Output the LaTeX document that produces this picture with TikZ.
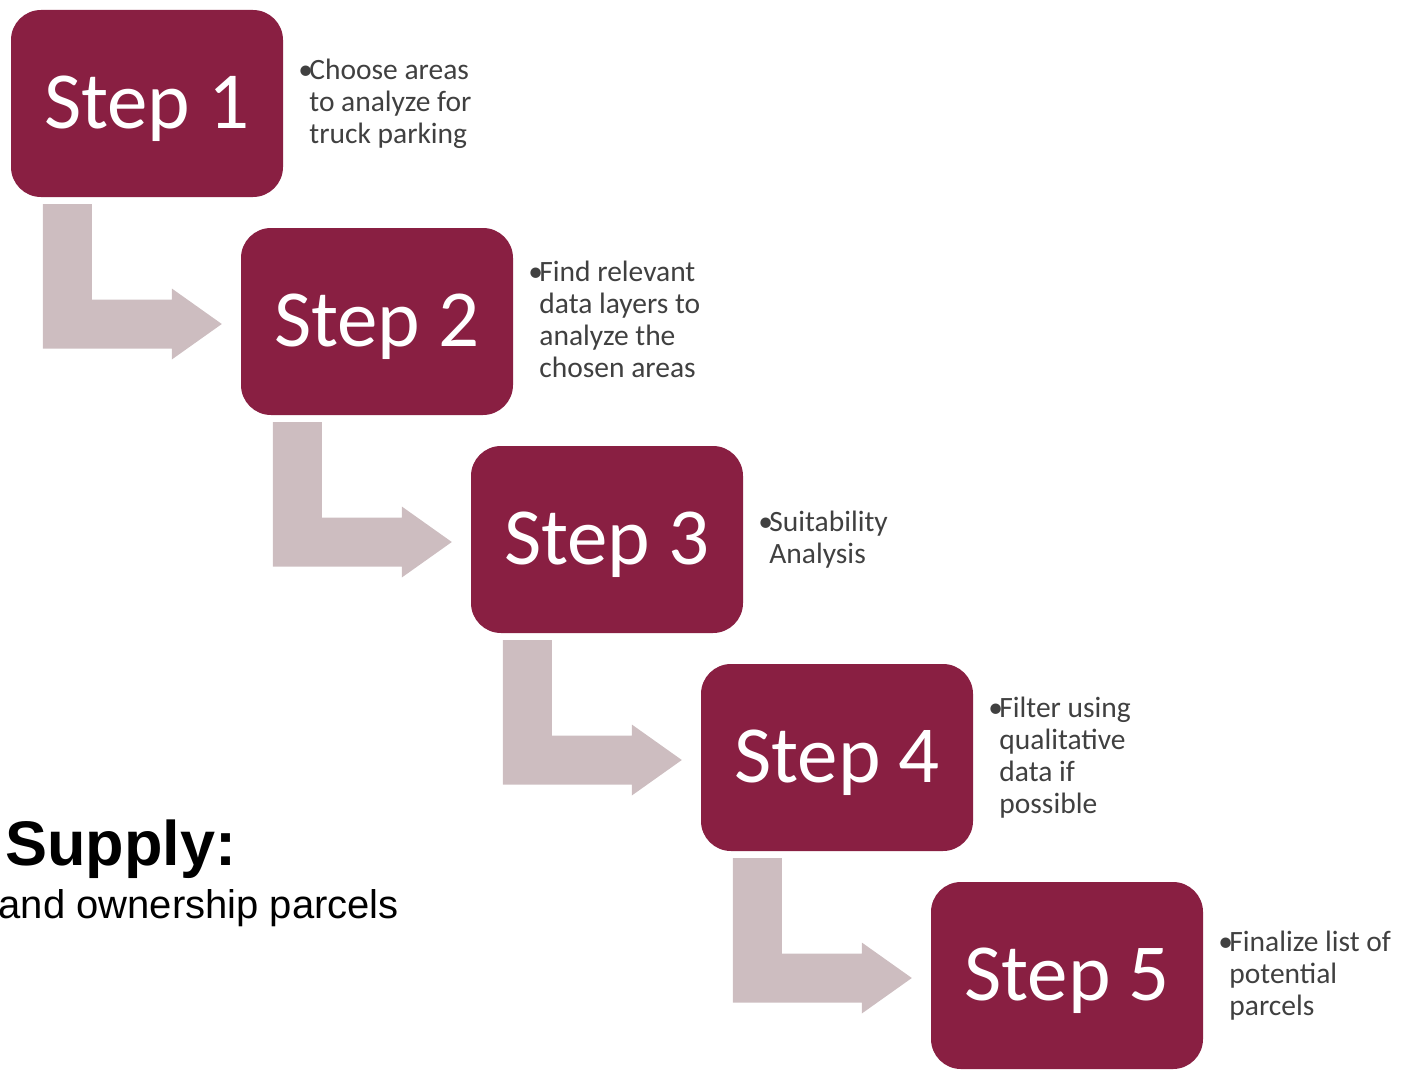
\documentclass[tikz,border=0pt]{standalone}
\usepackage{fontspec}
\setmainfont{Carlito}
\newfontfamily\arialfont{Liberation Sans}
\usetikzlibrary{positioning}
\usetikzlibrary{calc}

\definecolor{stepred}{HTML}{891F42}
\definecolor{elbowgray}{HTML}{CDBDC0}
\definecolor{notegray}{HTML}{404040}

\tikzset{
  stepbox/.style={rectangle, rounded corners=30pt, fill=stepred, text=white,
    minimum width=272pt, minimum height=187pt, inner sep=0pt,
    text height=50pt, text depth=0pt, font=\fontsize{81}{97}\selectfont},
  note/.style={inner sep=0pt, text=notegray, font=\fontsize{29.5}{32}\selectfont},
  elbow/.style={fill=elbowgray},
}
\newcommand{\bul}{\makebox[11pt][l]{•}}

\begin{document}
\begin{tikzpicture}[x=1pt,y=-1pt]
\useasboundingbox (0,0) rectangle (1407,1070);
% step boxes
\node[stepbox] (s1) at (147,103.5) {Step 1};
\node[stepbox] (s2) at (377,321.5) {Step 2};
\node[stepbox] (s3) at (607,539.5) {Step 3};
\node[stepbox] (s4) at (837,757.5) {Step 4};
\node[stepbox] (s5) at (1067,975.5) {Step 5};
% bent arrows between steps
\foreach \a/\b in {1/2,2/3,3/4,4/5} {
  \path (s\a.south west) ++(32,7) coordinate (p);
  \path (s\b.west) ++(-19,2.5) coordinate (q);
  \coordinate (r) at ($(q)+(0,24.5)$);
  \fill[elbow] (p) -- ++(49,0) |- ($(q)+(-50,-24.5)$) -- ++(0,-11) -- (q)
    -- ++(-50,35.5) -- ++(0,-11) -- (p |- r) -- cycle;
}
% notes beside the steps
\node[note, right=15pt of s1, yshift=-1.5pt] (n1) {\bul\begin{tabular}[t]{@{}l@{}}Choose areas\\to analyze for\\truck parking\end{tabular}};
\node[note, right=15pt of s2, yshift=-1.5pt] (n2) {\bul\begin{tabular}[t]{@{}l@{}}Find relevant\\data layers to\\analyze the\\chosen areas\end{tabular}};
\node[note, right=15pt of s3, yshift=-1.5pt] (n3) {\bul\begin{tabular}[t]{@{}l@{}}Suitability\\Analysis\end{tabular}};
\node[note, right=15pt of s4, yshift=-1.5pt] (n4) {\bul\begin{tabular}[t]{@{}l@{}}Filter using\\qualitative\\data if\\possible\end{tabular}};
\node[note, right=15pt of s5, yshift=-1.5pt] (n5) {\bul\begin{tabular}[t]{@{}l@{}}Finalize list of\\potential\\parcels\end{tabular}};
% heading on the left
\node[anchor=base west, inner sep=0pt, font=\arialfont\bfseries\fontsize{63}{75}\selectfont] (supply) at (5,865) {Supply:};
\node[anchor=base west, inner sep=0pt, font=\arialfont\fontsize{40}{48}\selectfont] (parcels) at (-1.5,918) {and ownership parcels};
\end{tikzpicture}
\end{document}
